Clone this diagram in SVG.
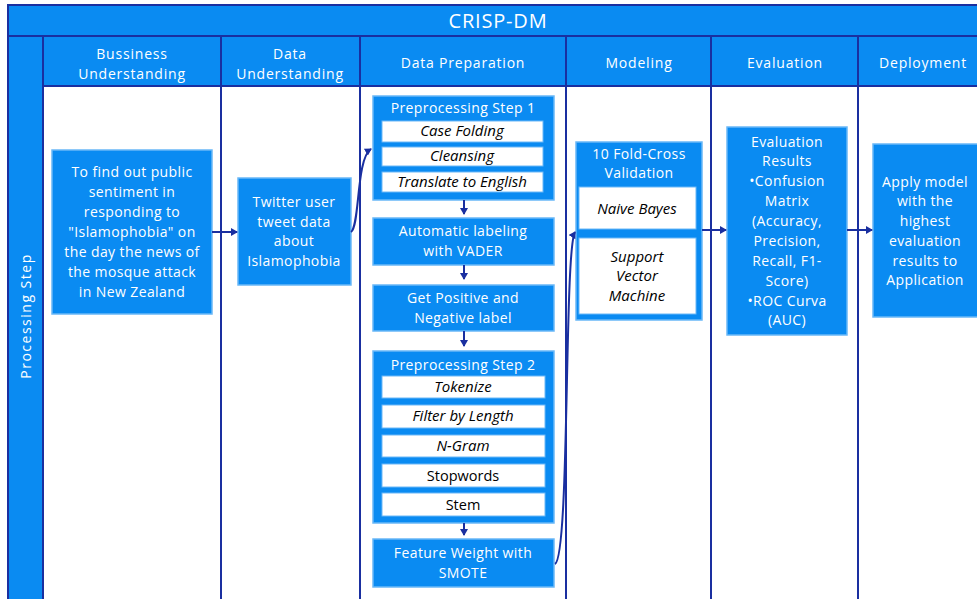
<svg xmlns="http://www.w3.org/2000/svg" width="977" height="599" viewBox="0 0 977 599">
<defs>
<marker id="ah" markerWidth="8" markerHeight="8" refX="6" refY="4" orient="auto" markerUnits="userSpaceOnUse">
<path d="M0,0 L7,4 L0,8 Z" fill="#1a2fa0"/>
</marker>
</defs>
<style>
.hdr{fill:#0a8bf2;stroke:#1a2fa0;stroke-width:2}
.lane{fill:#ffffff;stroke:#1a2fa0;stroke-width:2}
.box{fill:#0a8bf2;stroke:#6ab8f7;stroke-width:1.5}
.wbox{fill:#ffffff;stroke:#6ab8f7;stroke-width:1}
.t{font-family:"Open Sans","Liberation Sans",sans-serif;fill:#ffffff;text-anchor:middle;font-size:14px;letter-spacing:0.4px}
.h{font-family:"Open Sans","Liberation Sans",sans-serif;fill:#ffffff;text-anchor:middle;font-size:14px;letter-spacing:0.8px}
.i{font-family:"Open Sans","Liberation Sans",sans-serif;fill:#000000;text-anchor:middle;font-size:15px;font-style:italic}
.n{font-family:"Open Sans","Liberation Sans",sans-serif;fill:#000000;text-anchor:middle;font-size:14.5px}
.c{fill:none;stroke:#1a2fa0;stroke-width:2;marker-end:url(#ah)}
</style>
<rect width="977" height="599" fill="#ffffff"/>
<g id="frame">
<rect class="hdr" x="8" y="5" width="975" height="31"/>
<text class="h" x="498" y="28" style="font-size:20px">CRISP-DM</text>
<rect class="hdr" x="8" y="36" width="35" height="570"/>
<text class="h" transform="translate(31,316) rotate(-90)" style="letter-spacing:1.5px">Processing Step</text>
<rect class="hdr" x="43" y="36" width="178" height="50"/>
<text class="h" x="132" y="59">Bussiness</text>
<text class="h" x="132" y="79">Understanding</text>
<rect class="hdr" x="221" y="36" width="139" height="50"/>
<text class="h" x="290" y="59">Data</text>
<text class="h" x="290" y="79">Understanding</text>
<rect class="hdr" x="360" y="36" width="206" height="50"/>
<text class="h" x="463" y="68">Data Preparation</text>
<rect class="hdr" x="566" y="36" width="145" height="50"/>
<text class="h" x="639" y="68">Modeling</text>
<rect class="hdr" x="711" y="36" width="147" height="50"/>
<text class="h" x="785" y="68">Evaluation</text>
<rect class="hdr" x="858" y="36" width="125" height="50"/>
<text class="h" x="923" y="68">Deployment</text>
<rect class="lane" x="43" y="86" width="178" height="520"/>
<rect class="lane" x="221" y="86" width="139" height="520"/>
<rect class="lane" x="360" y="86" width="206" height="520"/>
<rect class="lane" x="566" y="86" width="145" height="520"/>
<rect class="lane" x="711" y="86" width="147" height="520"/>
<rect class="lane" x="858" y="86" width="125" height="520"/>
</g>
<g id="business">
<rect class="box" x="52" y="150" width="160" height="164"/>
<text class="t" x="132" y="177">To find out public</text>
<text class="t" x="132" y="197">sentiment in</text>
<text class="t" x="132" y="217">responding to</text>
<text class="t" x="132" y="237">"Islamophobia" on</text>
<text class="t" x="132" y="257">the day the news of</text>
<text class="t" x="132" y="277">the mosque attack</text>
<text class="t" x="132" y="297">in New Zealand</text>
</g>
<g id="twitter">
<rect class="box" x="238" y="178" width="113" height="107"/>
<text class="t" x="294" y="207">Twitter user</text>
<text class="t" x="294" y="227">tweet data</text>
<text class="t" x="294" y="246">about</text>
<text class="t" x="294" y="266">Islamophobia</text>
</g>
<g id="prep1">
<rect class="box" x="373" y="96" width="181" height="104"/>
<text class="t" x="463" y="113">Preprocessing Step 1</text>
<rect class="wbox" x="382" y="121" width="161" height="21"/>
<text class="i" x="462" y="136">Case Folding</text>
<rect class="wbox" x="382" y="147" width="161" height="19"/>
<text class="i" x="462" y="161">Cleansing</text>
<rect class="wbox" x="382" y="172" width="161" height="20"/>
<text class="i" x="462" y="187">Translate to English</text>
</g>
<g id="vader">
<rect class="box" x="373" y="218" width="181" height="47"/>
<text class="t" x="463" y="236">Automatic labeling</text>
<text class="t" x="463" y="256">with VADER</text>
</g>
<g id="label">
<rect class="box" x="373" y="285" width="181" height="46"/>
<text class="t" x="463" y="303">Get Positive and</text>
<text class="t" x="463" y="323">Negative label</text>
</g>
<g id="prep2">
<rect class="box" x="373" y="351" width="181" height="172"/>
<text class="t" x="463" y="370">Preprocessing Step 2</text>
<rect class="wbox" x="382" y="376" width="163" height="22"/>
<text class="i" x="463" y="392">Tokenize</text>
<rect class="wbox" x="382" y="405" width="163" height="23"/>
<text class="i" x="463" y="421">Filter by Length</text>
<rect class="wbox" x="382" y="435" width="163" height="22"/>
<text class="i" x="463" y="451">N-Gram</text>
<rect class="wbox" x="382" y="464" width="163" height="23"/>
<text class="n" x="463" y="481">Stopwords</text>
<rect class="wbox" x="382" y="493" width="163" height="23"/>
<text class="n" x="463" y="510">Stem</text>
</g>
<g id="smote">
<rect class="box" x="373" y="539" width="181" height="48"/>
<text class="t" x="463" y="558">Feature Weight with</text>
<text class="t" x="463" y="578">SMOTE</text>
</g>
<g id="modeling">
<rect class="box" x="576" y="142" width="126" height="178"/>
<text class="t" x="639" y="159">10 Fold-Cross</text>
<text class="t" x="639" y="178">Validation</text>
<rect class="wbox" x="579" y="187" width="117" height="42"/>
<text class="i" x="637" y="214">Naive Bayes</text>
<rect class="wbox" x="579" y="238" width="117" height="76"/>
<text class="i" x="637" y="262">Support</text>
<text class="i" x="637" y="281">Vector</text>
<text class="i" x="637" y="301">Machine</text>
</g>
<g id="evaluation">
<rect class="box" x="727" y="127" width="120" height="208"/>
<text class="t" x="787" y="147">Evaluation</text>
<text class="t" x="787" y="166">Results</text>
<text class="t" x="787" y="186">•Confusion</text>
<text class="t" x="787" y="206">Matrix</text>
<text class="t" x="787" y="226">(Accuracy,</text>
<text class="t" x="787" y="246">Precision,</text>
<text class="t" x="787" y="266">Recall, F1-</text>
<text class="t" x="787" y="286">Score)</text>
<text class="t" x="787" y="306">•ROC Curva</text>
<text class="t" x="787" y="325">(AUC)</text>
</g>
<g id="deployment">
<rect class="box" x="873" y="144" width="110" height="173"/>
<text class="t" x="925" y="187">Apply model</text>
<text class="t" x="925" y="206">with the</text>
<text class="t" x="925" y="226">highest</text>
<text class="t" x="925" y="246">evaluation</text>
<text class="t" x="925" y="266">results to</text>
<text class="t" x="925" y="285">Application</text>
</g>
<g id="connectors">
<path class="c" d="M212,232 L237,232"/>
<path class="c" d="M351,232 C360,226 356,158 371,149"/>
<path class="c" d="M464,200 L464,214"/>
<path class="c" d="M464,265 L464,279"/>
<path class="c" d="M464,331 L464,346"/>
<path class="c" d="M464,523 L464,535"/>
<path class="c" d="M555,564 C570,556 564,250 575,232"/>
<path class="c" d="M702,230 L726,230"/>
<path class="c" d="M847,230 L872,230"/>
</g>
</svg>
